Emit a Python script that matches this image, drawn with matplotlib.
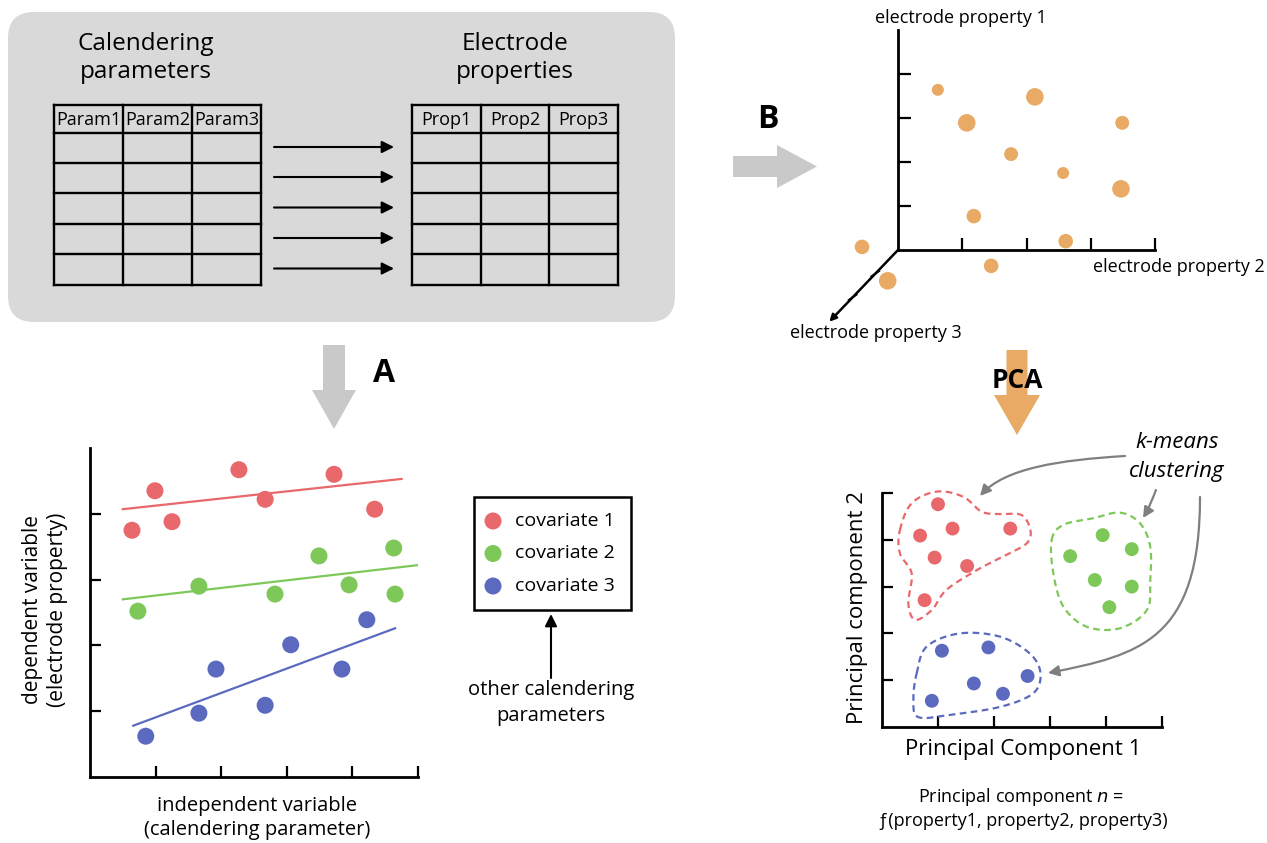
import numpy as np
import matplotlib
matplotlib.use("Agg")
import matplotlib.pyplot as plt
from matplotlib.patches import FancyBboxPatch, FancyArrow, FancyArrowPatch, Rectangle
from matplotlib.path import Path

plt.rcParams['font.family'] = ['Open Sans', 'DejaVu Sans']

# ---------------- data ----------------
param_labels = ["Param1", "Param2", "Param3"]
prop_labels = ["Prop1", "Prop2", "Prop3"]
n_rows = 5

# Panel A: regression scatter (x = independent variable, y = dependent variable)
cov_names = ["covariate 1", "covariate 2", "covariate 3"]
cov1_x = [0.64, 0.99, 1.25, 2.27, 2.67, 3.72, 4.34]
cov1_y = [3.75, 4.35, 3.88, 4.67, 4.22, 4.60, 4.07]
cov2_x = [0.73, 1.66, 2.82, 3.49, 3.95, 4.63, 4.65]
cov2_y = [2.52, 2.90, 2.78, 3.36, 2.92, 3.48, 2.78]
cov3_x = [0.85, 1.66, 1.92, 2.67, 3.06, 3.84, 4.22]
cov3_y = [0.62, 0.97, 1.64, 1.09, 2.01, 1.64, 2.39]
fit1_x = [0.50, 4.75]; fit1_y = [4.07, 4.53]
fit2_x = [0.50, 5.00]; fit2_y = [2.70, 3.22]
fit3_x = [0.66, 4.65]; fit3_y = [0.78, 2.26]

# Panel B: projected 3D electrode properties
prop2_proj = [0.62, 2.13, 1.07, 3.49, 1.76, 2.57, 3.47, 1.18, 2.61, -0.56, 1.45, -0.16]
prop1_proj = [3.64, 3.48, 2.89, 2.89, 2.18, 1.75, 1.39, 0.77, 0.20, 0.07, -0.36, -0.70]
depth_size = [75, 160, 160, 100, 100, 75, 160, 110, 110, 110, 110, 160]

# PCA panel: clusters
pc_red_x = [1.00, 0.68, 1.26, 2.29, 0.94, 1.52, 0.76]
pc_red_y = [4.76, 4.09, 4.24, 4.24, 3.62, 3.44, 2.71]
pc_green_x = [3.94, 3.36, 4.46, 3.80, 4.46, 4.06]
pc_green_y = [4.10, 3.65, 3.80, 3.14, 3.00, 2.56]
pc_blue_x = [1.07, 1.90, 2.60, 1.64, 2.16, 0.89]
pc_blue_y = [1.63, 1.70, 1.09, 0.93, 0.71, 0.56]

hull_red = [(0.32, 4.21), (0.53, 4.78), (0.98, 5.03), (1.45, 4.92), (1.78, 4.60), (2.11, 4.55),
            (2.49, 4.53), (2.65, 4.21), (2.58, 3.92), (2.17, 3.65), (1.69, 3.35), (1.15, 2.93),
            (0.89, 2.50), (0.59, 2.29), (0.47, 2.64), (0.53, 3.28), (0.32, 3.71)]
hull_green = [(3.03, 4.00), (3.24, 4.32), (3.77, 4.46), (4.25, 4.58), (4.61, 4.35), (4.79, 3.85),
              (4.79, 3.14), (4.73, 2.50), (4.25, 2.11), (3.66, 2.14), (3.24, 2.57), (3.06, 3.28)]
hull_blue = [(0.62, 1.15), (0.80, 1.72), (1.39, 2.00), (2.11, 1.93), (2.64, 1.57), (2.83, 1.15),
             (2.70, 0.72), (2.11, 0.43), (1.21, 0.26), (0.65, 0.21), (0.56, 0.58)]

RED = '#e8686c'
GREEN = '#7ec85a'
BLUE = '#5b6abf'
ORANGE = '#e8aa65'
GRAY_ARROW = '#c9c9c9'
BOX = '#d9d9d9'

W, H = 1267, 843
fig = plt.figure(figsize=(W / 100, H / 100), dpi=100)
fig.patch.set_facecolor('white')


def px_axes(x0, y0, x1, y1):
    return fig.add_axes([x0 / W, 1 - y1 / H, (x1 - x0) / W, (y1 - y0) / H])


# overlay axes in pixel coordinates
ax0 = fig.add_axes([0, 0, 1, 1])
ax0.set_xlim(0, W)
ax0.set_ylim(H, 0)
ax0.axis('off')

# ---------------- top-left box with tables ----------------
ax0.add_patch(FancyBboxPatch((8, 12), 667, 310, boxstyle="round,pad=0,rounding_size=26",
                             fc=BOX, ec='none', zorder=0))
ax0.text(146, 58, "Calendering\nparameters", ha='center', va='center', fontsize=17.5,
         linespacing=1.2)
ax0.text(515, 58, "Electrode\nproperties", ha='center', va='center', fontsize=17.5,
         linespacing=1.2)

row_edges = [105, 133, 163, 193, 224, 254, 285]


def draw_table(xedges, labels):
    for x in xedges:
        ax0.plot([x, x], [row_edges[0], row_edges[-1]], color='black', lw=1.7,
                 solid_capstyle='projecting', zorder=2)
    for y in row_edges:
        ax0.plot([xedges[0], xedges[-1]], [y, y], color='black', lw=1.7,
                 solid_capstyle='projecting', zorder=2)
    for i, lab in enumerate(labels):
        ax0.text((xedges[i] + xedges[i + 1]) / 2, (row_edges[0] + row_edges[1]) / 2 + 1, lab,
                 ha='center', va='center', fontsize=13)


draw_table([54, 123, 192, 261], param_labels)
draw_table([412, 481, 549, 618], prop_labels)

for i in range(n_rows):
    yc = (row_edges[i + 1] + row_edges[i + 2]) / 2 - 1
    ax0.annotate("", xy=(394, yc), xytext=(274, yc),
                 arrowprops=dict(arrowstyle='-|>', lw=1.5, color='black',
                                 mutation_scale=18, shrinkA=0, shrinkB=0))

# ---------------- block arrows ----------------
ax0.add_patch(FancyArrow(334, 345, 0, 84, width=22, head_width=44, head_length=39,
                         length_includes_head=True, fc=GRAY_ARROW, ec='none'))
ax0.text(384, 374, "A", ha='center', va='center', fontsize=23, fontweight='bold')

ax0.add_patch(FancyArrow(733, 166.5, 84, 0, width=21, head_width=43, head_length=40,
                         length_includes_head=True, fc=GRAY_ARROW, ec='none'))
ax0.text(768, 120, "B", ha='center', va='center', fontsize=23, fontweight='bold')

ax0.add_patch(FancyArrow(1017, 350, 0, 85, width=21, head_width=46, head_length=40,
                         length_includes_head=True, fc=ORANGE, ec='none'))
ax0.text(1017, 381, "PCA", ha='center', va='center', fontsize=19, fontweight='bold')

# ---------------- Panel A scatter ----------------
axA = px_axes(90, 448, 418, 777)
axA.set_facecolor('none')
axA.set_xlim(0, 5)
axA.set_ylim(0, 5)
for s in ['top', 'right']:
    axA.spines[s].set_visible(False)
for s in ['left', 'bottom']:
    axA.spines[s].set_linewidth(2)
axA.set_xticks([1, 2, 3, 4, 5])
axA.set_yticks([1, 2, 3, 4])
axA.tick_params(direction='in', length=8, width=1.6, labelbottom=False, labelleft=False)
for xs, ys, fx, fy, c in [(cov1_x, cov1_y, fit1_x, fit1_y, RED),
                          (cov2_x, cov2_y, fit2_x, fit2_y, GREEN),
                          (cov3_x, cov3_y, fit3_x, fit3_y, BLUE)]:
    axA.plot(fx, fy, color=c, lw=1.6, zorder=2)
    axA.scatter(xs, ys, s=150, color=c, edgecolors='none', zorder=3, clip_on=False)

ax0.text(257, 818, "independent variable\n(calendering parameter)", ha='center', va='center',
         fontsize=14.5, linespacing=1.3)
ax0.text(45, 610, "dependent variable\n(electrode property)", ha='center', va='center',
         fontsize=15, rotation=90, linespacing=1.25)

# legend box
ax0.add_patch(Rectangle((474, 497), 157, 113, fill=False, ec='black', lw=1.8))
for i, (name, c) in enumerate(zip(cov_names, [RED, GREEN, BLUE])):
    y = 521 + i * 32.5
    ax0.scatter([493], [y], s=150, color=c, edgecolors='none')
    ax0.text(515, y, name, ha='left', va='center', fontsize=14)

ax0.annotate("", xy=(551, 614), xytext=(551, 678),
             arrowprops=dict(arrowstyle='-|>', lw=1.5, color='black', mutation_scale=18,
                             shrinkA=0, shrinkB=0))
ax0.text(551, 703, "other calendering\nparameters", ha='center', va='center', fontsize=14.5,
         linespacing=1.35)

# ---------------- Panel B pseudo-3D ----------------
axB = px_axes(898 - 2 * 64.25, 250 - 5.5 * 44, 898 + 5 * 64.25, 250 + 2 * 44)
axB.set_facecolor('none')
axB.set_xlim(-2, 5)
axB.set_ylim(-2, 5.5)
for s in ['top', 'right']:
    axB.spines[s].set_visible(False)
axB.spines['left'].set_position(('data', 0))
axB.spines['bottom'].set_position(('data', 0))
axB.spines['left'].set_bounds(0, 5)
axB.spines['bottom'].set_bounds(0, 4)
for s in ['left', 'bottom']:
    axB.spines[s].set_linewidth(2)
axB.set_xticks([1, 2, 3, 4])
axB.set_yticks([1, 2, 3, 4])
axB.tick_params(direction='in', length=9, width=1.6, labelbottom=False, labelleft=False)
axB.annotate("", xy=(-1.07, -1.63), xytext=(0, 0),
             arrowprops=dict(arrowstyle='-|>', lw=1.8, color='black', mutation_scale=10,
                             shrinkA=0, shrinkB=0))
for t in [0.33, 0.66]:
    cx, cy = -1.07 * t, -1.63 * t
    axB.plot([cx - 0.06, cx + 0.06], [cy - 0.06, cy + 0.06], color='black', lw=1.4)
axB.scatter(prop2_proj, prop1_proj, s=depth_size, color=ORANGE, edgecolors='none',
            zorder=3, clip_on=False)
axB.text(-0.36, 5.27, "electrode property 1", ha='left', va='center', fontsize=13)
axB.text(3.03, -0.39, "electrode property 2", ha='left', va='center', fontsize=13)
axB.text(-1.68, -1.88, "electrode property 3", ha='left', va='center', fontsize=13)

# ---------------- PCA panel ----------------
axP = px_axes(882, 493, 1162, 727)
axP.set_facecolor('none')
axP.set_xlim(0, 5)
axP.set_ylim(0, 5)
for s in ['top', 'right']:
    axP.spines[s].set_visible(False)
for s in ['left', 'bottom']:
    axP.spines[s].set_linewidth(2)
axP.set_xticks([1, 2, 3, 4, 5])
axP.set_yticks([1, 2, 3, 4, 5])
axP.tick_params(direction='in', length=8, width=1.6, labelbottom=False, labelleft=False)


def smooth_closed(pts, n=24):
    P = np.asarray(pts, dtype=float)
    N = len(P)
    out = []
    t = np.linspace(0, 1, n, endpoint=False)[:, None]
    for i in range(N):
        p0, p1, p2, p3 = P[i - 1], P[i], P[(i + 1) % N], P[(i + 2) % N]
        out.append(0.5 * ((2 * p1) + (-p0 + p2) * t + (2 * p0 - 5 * p1 + 4 * p2 - p3) * t ** 2
                          + (-p0 + 3 * p1 - 3 * p2 + p3) * t ** 3))
    out = np.vstack(out)
    return np.vstack([out, out[:1]])


for hull, xs, ys, c in [(hull_red, pc_red_x, pc_red_y, RED),
                        (hull_green, pc_green_x, pc_green_y, GREEN),
                        (hull_blue, pc_blue_x, pc_blue_y, BLUE)]:
    sm = smooth_closed(hull)
    axP.plot(sm[:, 0], sm[:, 1], color=c, lw=1.6, ls=(0, (3, 2)), clip_on=False)
    axP.scatter(xs, ys, s=100, color=c, edgecolors='none', zorder=3, clip_on=False)

ax0.text(1023, 749, "Principal Component 1", ha='center', va='center', fontsize=16)
ax0.text(857, 608, "Principal component 2", ha='center', va='center', fontsize=16,
         rotation=90)
ax0.text(1021, 797, "Principal component $\\it{n}$ =", ha='center', va='center', fontsize=13)
ax0.text(1023, 821, "ƒ(property1, property2, property3)", ha='center', va='center',
         fontsize=13)

ax0.text(1177, 442, "k-means", ha='center', va='center', fontsize=16, style='italic')
ax0.text(1177, 472, "clustering", ha='center', va='center', fontsize=16, style='italic')

KGRAY = '#7f7f7f'
curves = [
    [(1125, 456), (1060, 460), (1005, 468), (980, 496)],
    [(1156, 490), (1152, 500), (1148, 510), (1143, 518)],
    [(1200, 497), (1200, 640), (1140, 655), (1048, 673)],
]
for cv in curves:
    path = Path(cv, [Path.MOVETO, Path.CURVE4, Path.CURVE4, Path.CURVE4])
    ax0.add_patch(FancyArrowPatch(path=path, arrowstyle='-|>', mutation_scale=16, lw=1.6,
                                  color=KGRAY))

fig.savefig("out.png", dpi=100)
